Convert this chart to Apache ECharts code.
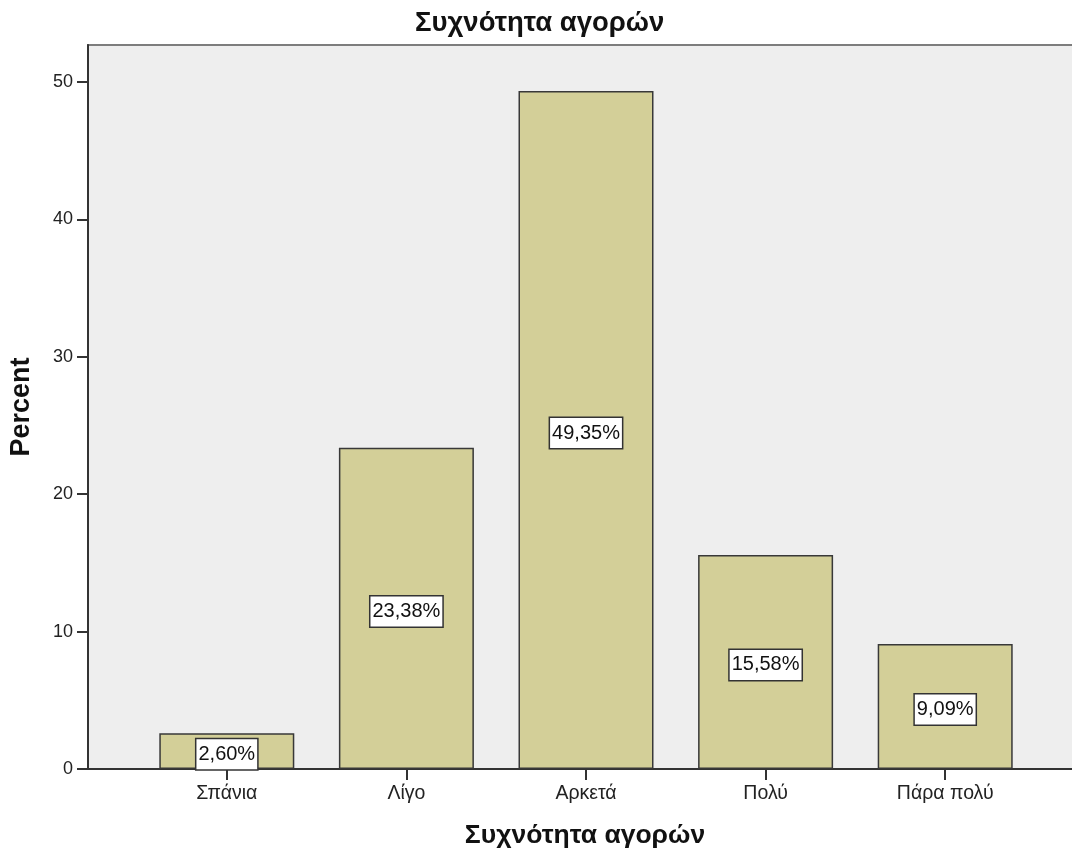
<!DOCTYPE html>
<html>
<head>
<meta charset="utf-8">
<script src="https://cdn.jsdelivr.net/npm/echarts@6/dist/echarts.min.js"></script>
<style>
  html, body { margin: 0; padding: 0; background: #ffffff; }
  #chart { width: 1072px; height: 852px; }
</style>
</head>
<body>
<div id="chart"></div>
<script>
// Purchase frequency, percent of respondents
const categories = ['Σπάνια', 'Λίγο', 'Αρκετά', 'Πολύ', 'Πάρα πολύ'];
const percents = [2.60, 23.38, 49.35, 15.58, 9.09];
const yTicks = [0, 10, 20, 30, 40, 50];

const chartTitle = 'Συχνότητα αγορών';
const xTitle = 'Συχνότητα αγορών';
const yTitle = 'Percent';

const FONT = '"Liberation Sans", Arial, sans-serif';
const Y_MAX = 52.7;

const chart = echarts.init(document.getElementById('chart'), null, { renderer: 'canvas' });

chart.setOption({
  animation: false,
  backgroundColor: '#ffffff',
  title: {
    text: chartTitle,
    left: 415,
    top: 9,
    padding: 0,
    textStyle: { fontFamily: FONT, fontSize: 27.5, fontWeight: 'bold', color: '#111' }
  },
  grid: [
    // framed plot panel, open towards the right edge
    {
      left: 88, right: -10, top: 45, bottom: 83,
      outerBoundsMode: 'none', containLabel: false,
      show: true, backgroundColor: '#eeeeee',
      borderColor: '#7d7d7d', borderWidth: 2
    },
    // inner band where the bars sit
    {
      left: 137, right: 37, top: 45, bottom: 83,
      outerBoundsMode: 'none', containLabel: false
    }
  ],
  xAxis: [
    {
      gridIndex: 0, type: 'value', min: 0, max: 1,
      name: xTitle, nameLocation: 'middle', nameGap: 53,
      nameTextStyle: { fontFamily: FONT, fontSize: 26.5, fontWeight: 'bold', color: '#111' },
      axisLine: { show: true, lineStyle: { color: '#333', width: 2 } },
      axisTick: { show: false }, axisLabel: { show: false }, splitLine: { show: false }
    },
    {
      gridIndex: 1, type: 'category', data: categories,
      axisLine: { show: true, lineStyle: { color: '#333', width: 2 } },
      axisTick: { show: true, alignWithLabel: true, length: 11, lineStyle: { color: '#333', width: 2 } },
      axisLabel: { fontFamily: FONT, fontSize: 19.5, color: '#222', margin: 15 },
      splitLine: { show: false }
    }
  ],
  yAxis: [
    {
      gridIndex: 0, type: 'value', min: 0, max: Y_MAX, interval: 10,
      name: yTitle, nameLocation: 'middle', nameGap: 53, nameRotate: 90,
      nameTextStyle: { fontFamily: FONT, fontSize: 27, fontWeight: 'bold', color: '#111' },
      axisLine: { show: true, lineStyle: { color: '#333', width: 2 } },
      axisTick: { show: true, length: 11, customValues: yTicks, lineStyle: { color: '#333', width: 2 } },
      axisLabel: { fontFamily: FONT, fontSize: 18, color: '#222', margin: 15, customValues: yTicks },
      splitLine: { show: false }
    },
    {
      gridIndex: 1, type: 'value', min: 0, max: Y_MAX, interval: 10,
      show: false, splitLine: { show: false }
    }
  ],
  series: [{
    type: 'bar',
    xAxisIndex: 1, yAxisIndex: 1,
    data: percents,
    barWidth: 135,
    itemStyle: { color: '#d3cf98', borderColor: '#383838', borderWidth: 1.5 },
    label: {
      show: true,
      position: 'inside',
      offset: [0, 3],
      formatter: p => p.value.toFixed(2).replace('.', ',') + '%',
      fontFamily: FONT, fontSize: 20, color: '#111',
      backgroundColor: '#ffffff',
      borderColor: '#333', borderWidth: 1.5,
      padding: [6, 2, 4, 2]
    }
  }]
});
</script>
</body>
</html>
